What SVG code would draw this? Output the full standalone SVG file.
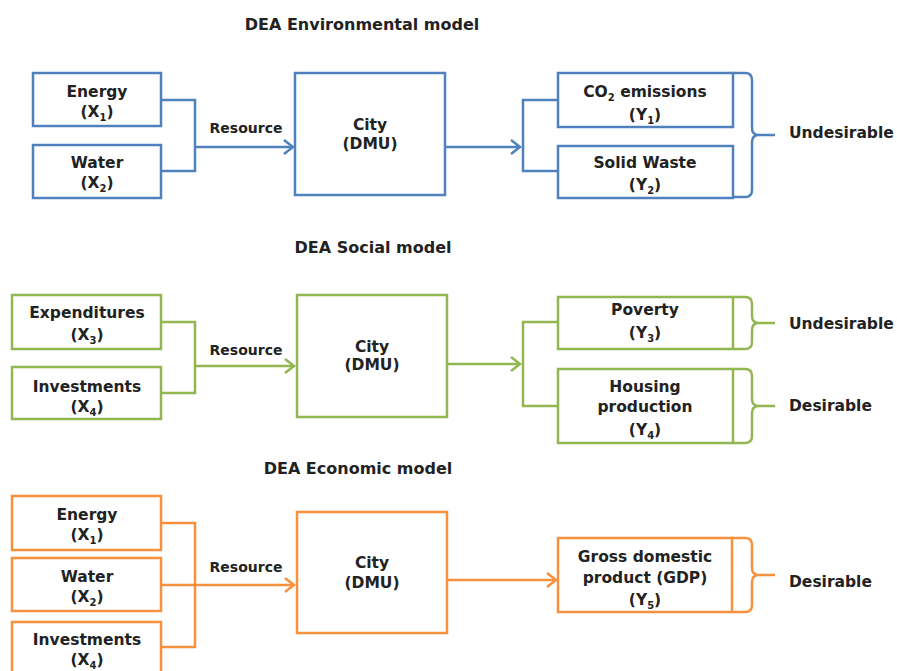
<svg xmlns="http://www.w3.org/2000/svg" width="897" height="671" viewBox="0 0 897 671">
<style>
text{font-family:"DejaVu Sans","Liberation Sans",sans-serif;font-weight:bold;font-size:15.5px;fill:#222;text-anchor:middle}
.t{font-size:16px}
.r{font-size:14px}
.l{text-anchor:start}
.sub{font-size:10px}
.box{fill:#fff;stroke-width:2.5}
.b{stroke:#4F81BD}
.g{stroke:#92B650}
.o{stroke:#F7913D}
.ln{fill:none;stroke-width:2.5}
</style>
<defs>
<marker id="ab" markerUnits="userSpaceOnUse" markerWidth="14" markerHeight="18" refX="11" refY="8" orient="auto"><path d="M2,1 L11,8 L2,15" fill="none" stroke="#4F81BD" stroke-width="2.5"/></marker>
<marker id="ag" markerUnits="userSpaceOnUse" markerWidth="14" markerHeight="18" refX="11" refY="8" orient="auto"><path d="M2,1 L11,8 L2,15" fill="none" stroke="#92B650" stroke-width="2.5"/></marker>
<marker id="ao" markerUnits="userSpaceOnUse" markerWidth="14" markerHeight="18" refX="11" refY="8" orient="auto"><path d="M2,1 L11,8 L2,15" fill="none" stroke="#F7913D" stroke-width="2.5"/></marker>
</defs>

<text class="t" x="362" y="30">DEA Environmental model</text>
<text class="t" x="373" y="253">DEA Social model</text>
<text class="t" x="358" y="474">DEA Economic model</text>

<g id="connectors">
<!-- environmental -->
<path class="ln b" d="M161,100 H195 V171 H161"/>
<path class="ln b" d="M195,147 H293" marker-end="url(#ab)"/>
<path class="ln b" d="M445,147 H520" marker-end="url(#ab)"/>
<path class="ln b" d="M558,100 H523 V171 H558"/>
<path class="ln b" d="M733,73 H745 Q752,73 752,80 V128 Q752,135 759,135 H775 M759,135 Q752,135 752,142 V190 Q752,197 745,197 H733"/>
<!-- social -->
<path class="ln g" d="M161,322 H195 V393 H161"/>
<path class="ln g" d="M195,366 H294" marker-end="url(#ag)"/>
<path class="ln g" d="M447,364 H520" marker-end="url(#ag)"/>
<path class="ln g" d="M558,322 H523 V406 H558"/>
<path class="ln g" d="M733,297 H745 Q752,297 752,304 V316 Q752,323 759,323 H775 M759,323 Q752,323 752,330 V342 Q752,349 745,349 H733"/>
<path class="ln g" d="M733,369 H745 Q752,369 752,376 V399 Q752,406 759,406 H775 M759,406 Q752,406 752,413 V436 Q752,443 745,443 H733"/>
<!-- economic -->
<path class="ln o" d="M161,523 H195 V647 H161"/>
<path class="ln o" d="M161,585 H294" marker-end="url(#ao)"/>
<path class="ln o" d="M447,580 H556" marker-end="url(#ao)"/>
<path class="ln o" d="M732,538 H745 Q752,538 752,545 V568 Q752,575 759,575 H775 M759,575 Q752,575 752,582 V605 Q752,612 745,612 H732"/>
</g>

<text class="r" x="246" y="133">Resource</text>
<text class="r" x="246" y="355">Resource</text>
<text class="r" x="246" y="572">Resource</text>

<!-- Environmental -->
<g id="env-energy"><rect class="box b" x="33" y="73" width="128" height="53"/><text x="97" y="97">Energy</text><text x="97" y="117">(X<tspan class="sub" dy="4">1</tspan><tspan dy="-4">)</tspan></text></g>
<g id="env-water"><rect class="box b" x="33" y="145" width="128" height="53"/><text x="97" y="168">Water</text><text x="97" y="188">(X<tspan class="sub" dy="4">2</tspan><tspan dy="-4">)</tspan></text></g>
<g id="env-city"><rect class="box b" x="295" y="73" width="150" height="122"/><text x="370" y="130">City</text><text x="370" y="149">(DMU)</text></g>
<g id="env-co2"><rect class="box b" x="558" y="73" width="175" height="54"/><text x="645" y="97">CO<tspan class="sub" dy="4">2</tspan><tspan dy="-4"> emissions</tspan></text><text x="645" y="120">(Y<tspan class="sub" dy="4">1</tspan><tspan dy="-4">)</tspan></text></g>
<g id="env-waste"><rect class="box b" x="558" y="146" width="175" height="52"/><text x="645" y="168">Solid Waste</text><text x="645" y="190">(Y<tspan class="sub" dy="4">2</tspan><tspan dy="-4">)</tspan></text></g>
<g id="env-undesirable"><text class="l" x="789" y="138">Undesirable</text></g>

<!-- Social -->
<g id="soc-exp"><rect class="box g" x="12" y="295" width="149" height="54"/><text x="87" y="318">Expenditures</text><text x="87" y="340">(X<tspan class="sub" dy="4">3</tspan><tspan dy="-4">)</tspan></text></g>
<g id="soc-inv"><rect class="box g" x="12" y="367" width="149" height="52"/><text x="87" y="392">Investments</text><text x="87" y="412">(X<tspan class="sub" dy="4">4</tspan><tspan dy="-4">)</tspan></text></g>
<g id="soc-city"><rect class="box g" x="297" y="295" width="150" height="122"/><text x="372" y="352">City</text><text x="372" y="370">(DMU)</text></g>
<g id="soc-poverty"><rect class="box g" x="558" y="297" width="175" height="52"/><text x="645" y="315">Poverty</text><text x="645" y="338">(Y<tspan class="sub" dy="4">3</tspan><tspan dy="-4">)</tspan></text></g>
<g id="soc-housing"><rect class="box g" x="558" y="369" width="175" height="74"/><text x="645" y="392">Housing</text><text x="645" y="412">production</text><text x="645" y="435">(Y<tspan class="sub" dy="4">4</tspan><tspan dy="-4">)</tspan></text></g>
<g id="soc-undesirable"><text class="l" x="789" y="329">Undesirable</text></g>
<g id="soc-desirable"><text class="l" x="789" y="411">Desirable</text></g>

<!-- Economic -->
<g id="eco-energy"><rect class="box o" x="12" y="496" width="149" height="54"/><text x="87" y="520">Energy</text><text x="87" y="540">(X<tspan class="sub" dy="4">1</tspan><tspan dy="-4">)</tspan></text></g>
<g id="eco-water"><rect class="box o" x="12" y="558" width="149" height="53"/><text x="87" y="582">Water</text><text x="87" y="602">(X<tspan class="sub" dy="4">2</tspan><tspan dy="-4">)</tspan></text></g>
<g id="eco-inv"><rect class="box o" x="12" y="622" width="149" height="60"/><text x="87" y="645">Investments</text><text x="87" y="665">(X<tspan class="sub" dy="4">4</tspan><tspan dy="-4">)</tspan></text></g>
<g id="eco-city"><rect class="box o" x="297" y="512" width="150" height="121"/><text x="372" y="568">City</text><text x="372" y="588">(DMU)</text></g>
<g id="eco-gdp"><rect class="box o" x="558" y="538" width="174" height="74"/><text x="645" y="562">Gross domestic</text><text x="645" y="583">product (GDP)</text><text x="645" y="605">(Y<tspan class="sub" dy="4">5</tspan><tspan dy="-4">)</tspan></text></g>
<g id="eco-desirable"><text class="l" x="789" y="587">Desirable</text></g>
</svg>
